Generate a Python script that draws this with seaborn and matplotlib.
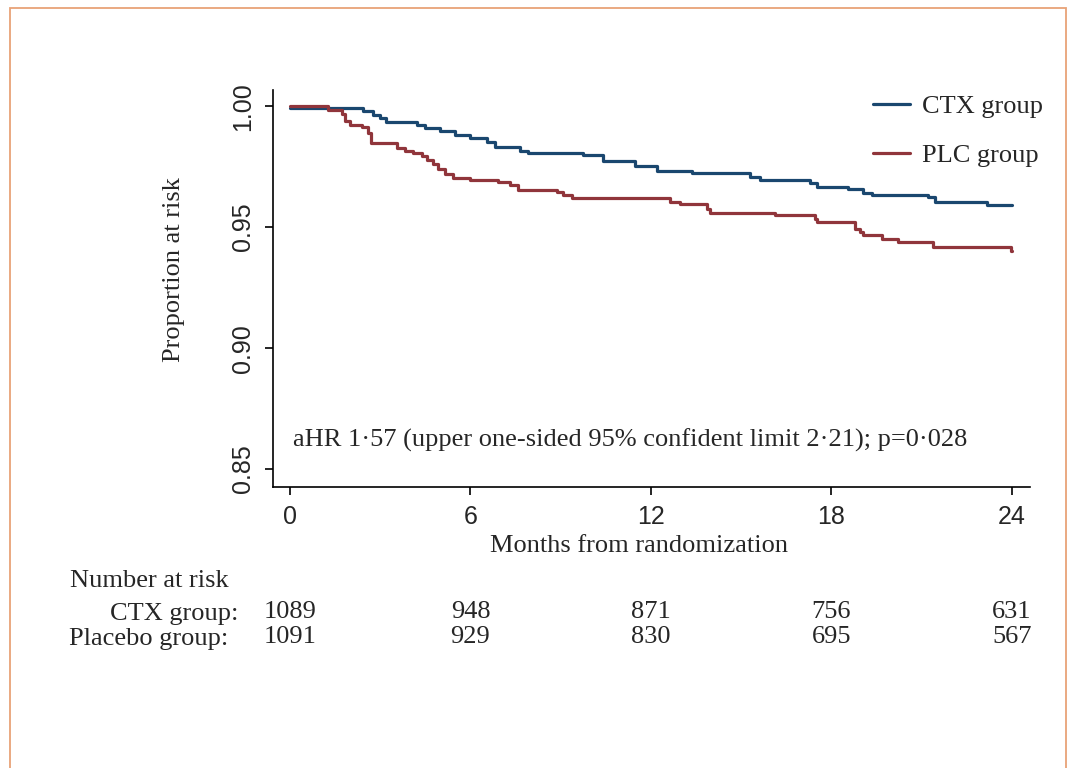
import matplotlib
matplotlib.use("Agg")
import matplotlib.pyplot as plt
import matplotlib.transforms as mtransforms
from matplotlib.lines import Line2D
from matplotlib.patches import Rectangle
import numpy as np
import pandas as pd
import seaborn as sns

# Kaplan-Meier style step curves (months, proportion at risk)
ctx_time = [0, 2.43, 2.76, 2.99, 3.19, 4.22, 4.49, 4.99, 5.49, 5.98, 6.55, 6.82,
            7.65, 7.91, 9.74, 10.41, 11.47, 12.20, 13.36, 15.29, 15.63, 17.29,
            17.52, 18.55, 19.05, 19.35, 21.21, 21.44, 23.17, 24.0]
ctx_surv = [0.9992, 0.9979, 0.9963, 0.9950, 0.9934, 0.9921, 0.9909, 0.9897, 0.9880,
            0.9868, 0.9851, 0.9831, 0.9814, 0.9806, 0.9798, 0.9774, 0.9753, 0.9731,
            0.9722, 0.9708, 0.9695, 0.9684, 0.9668, 0.9657, 0.9643, 0.9633, 0.9623,
            0.9606, 0.9591, 0.9591]

plc_time = [0, 1.26, 1.73, 1.83, 1.99, 2.39, 2.59, 2.69, 3.56, 3.82, 4.09, 4.39,
            4.55, 4.75, 4.92, 5.15, 5.42, 5.98, 6.91, 7.31, 7.58, 8.88, 9.08, 9.38,
            12.63, 12.97, 13.86, 13.96, 16.12, 17.45, 17.52, 18.78, 18.95, 19.05,
            19.68, 20.21, 21.38, 23.97, 24.0]
plc_surv = [1.0000, 0.9983, 0.9967, 0.9939, 0.9923, 0.9912, 0.9891, 0.9846, 0.9829,
            0.9815, 0.9805, 0.9795, 0.9777, 0.9760, 0.9740, 0.9719, 0.9702, 0.9694,
            0.9685, 0.9675, 0.9654, 0.9646, 0.9632, 0.9619, 0.9606, 0.9595, 0.9574,
            0.9558, 0.9550, 0.9533, 0.9520, 0.9492, 0.9478, 0.9467, 0.9450, 0.9439,
            0.9420, 0.9402, 0.9402]

group_labels = ["CTX group", "PLC group"]
risk_months = [0, 6, 12, 18, 24]
risk_ctx = [1089, 948, 871, 756, 631]
risk_plc = [1091, 929, 830, 695, 567]
annotation = "aHR 1\u00b757 (upper one-sided 95% confident limit 2\u00b721); p=0\u00b7028"

colors = {"CTX group": "#1A476F", "PLC group": "#90353B"}

df = pd.concat([
    pd.DataFrame({"months": ctx_time, "surv": ctx_surv, "group": "CTX group"}),
    pd.DataFrame({"months": plc_time, "surv": plc_surv, "group": "PLC group"}),
], ignore_index=True)

sns.set_theme(style="ticks")
plt.rcParams["font.family"] = ["Liberation Serif", "DejaVu Serif"]
sans = ["Liberation Sans", "DejaVu Sans"]

fig = plt.figure(figsize=(10.7, 7.68), dpi=100)
ax = fig.add_axes([273 / 1070, 1 - 487 / 768, 757 / 1070, 397 / 768])

sns.lineplot(data=df, x="months", y="surv", hue="group", palette=colors,
             estimator=None, drawstyle="steps-post", linewidth=2.3,
             legend=False, ax=ax)

ax.set_xlim(-0.565, 24.6)
ax.set_ylim(0.8426, 1.0067)
ax.set_xticks(risk_months)
ax.set_yticks([0.85, 0.90, 0.95, 1.00])
ax.set_yticklabels(["0.85", "0.90", "0.95", "1.00"], family=sans, fontsize=18,
                   rotation=90, va="center")
ax.set_xticklabels([str(m) for m in risk_months], family=sans, fontsize=18)
ax.tick_params(axis="both", length=6, width=1.2, color="black", pad=7)
for s in ["top", "right"]:
    ax.spines[s].set_visible(False)
for s in ["left", "bottom"]:
    ax.spines[s].set_color("black")
    ax.spines[s].set_linewidth(1.2)

ax.set_xlabel("Months from randomization", fontsize=19, va="center")
ax.xaxis.set_label_coords(0.4835, -0.1486)
ax.set_ylabel("Proportion at risk", fontsize=19, va="center")
ax.yaxis.set_label_coords(-0.1310, 0.5466)

ax.text(0.0264, 0.1184, annotation, transform=ax.transAxes, fontsize=19,
        ha="left", va="center")

handles = [Line2D([], [], color=colors[g], lw=2.3) for g in group_labels]
fig.legend(handles, group_labels, loc="upper left",
           bbox_to_anchor=(873 / 1070, 1 - 95 / 768), frameon=False,
           fontsize=19, handlelength=1.4, handletextpad=0.45, labelspacing=0.95,
           borderpad=0, borderaxespad=0)

# number at risk table
tr = mtransforms.blended_transform_factory(ax.transData, fig.transFigure)
fig.text(70 / 1070, 1 - 581 / 768, "Number at risk", fontsize=19, ha="left", va="center")
fig.text(238 / 1070, 1 - 614 / 768, "CTX group:", fontsize=19, ha="right", va="center")
fig.text(228 / 1070, 1 - 639 / 768, "Placebo group:", fontsize=19, ha="right", va="center")
for m, a, b in zip(risk_months, risk_ctx, risk_plc):
    fig.text(m, 1 - 612 / 768, str(a), transform=tr, fontsize=19, ha="center", va="center")
    fig.text(m, 1 - 637 / 768, str(b), transform=tr, fontsize=19, ha="center", va="center")

# orange frame around the panel
fig.patches.append(Rectangle((10 / 1070, -0.05), 1056 / 1070, 1.05 - 8 / 768,
                             transform=fig.transFigure, fill=False,
                             edgecolor="#E8A277", linewidth=1.3))

fig.savefig("out.png", dpi=100)
plt.close(fig)
